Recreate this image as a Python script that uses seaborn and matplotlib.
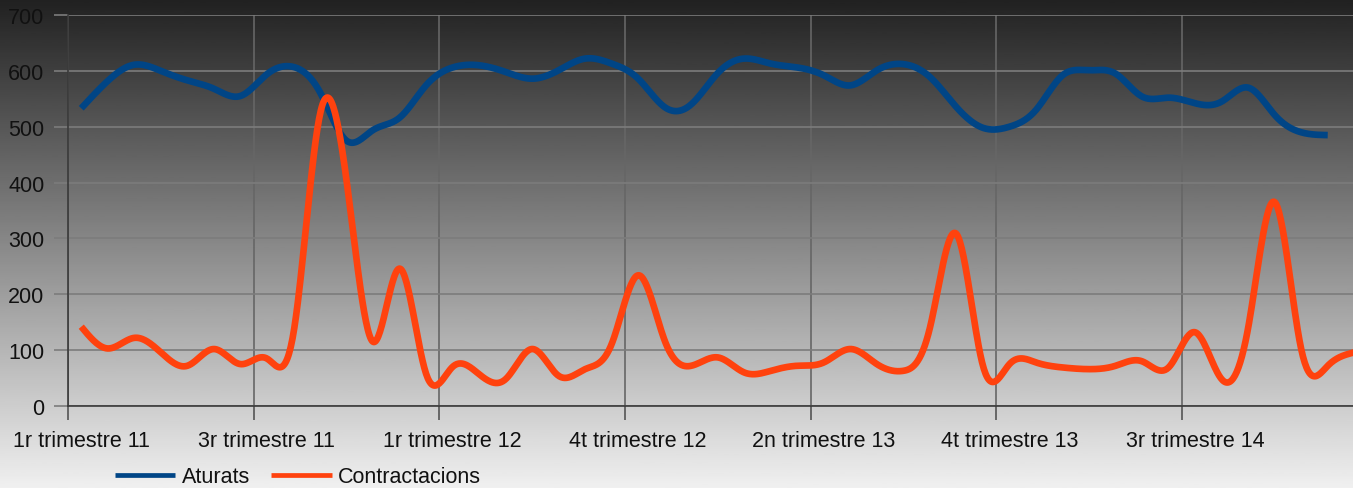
import numpy as np
import pandas as pd
import matplotlib
matplotlib.use("Agg")
import matplotlib.pyplot as plt
import seaborn as sns
from matplotlib.lines import Line2D

# ---- data ----
quarters = ["1r", "2n", "3r", "4t"]
years = ["11", "12", "13", "14", "15"]
months = [f"{q} trimestre {y}" for y in years for q in quarters for _ in range(3)][:49]

aturats = [533, 582, 611, 600, 583, 568, 555, 594, 607, 562,
           475, 494, 516, 574, 606, 610, 598, 586, 601, 622,
           613, 586, 535, 540, 596, 622, 613, 606, 592, 574,
           601, 612, 589, 535, 498, 500, 530, 592, 601, 595,
           554, 552, 542, 545, 570, 521, 490, 485]

contractacions = [142, 103, 122, 96, 72, 102, 75, 85, 130, 522,
                  405, 115, 246, 58, 70, 57, 48, 102, 54, 66,
                  111, 234, 117, 72, 87, 60, 63, 72, 78, 102,
                  75, 63, 140, 308, 72, 75, 78, 69, 66, 72,
                  80, 69, 132, 48, 140, 365, 102, 72, 96]

series_names = ["Aturats", "Contractacions"]
colors = ["#004586", "#ff420e"]
yticks = list(range(0, 701, 100))


def natural_spline(vals, per=30):
    y = np.asarray(vals, dtype=float)
    n = len(y)
    A = np.zeros((n, n))
    b = np.zeros(n)
    A[0, 0] = 1
    A[-1, -1] = 1
    for i in range(1, n - 1):
        A[i, i - 1] = 1
        A[i, i] = 4
        A[i, i + 1] = 1
        b[i] = 6 * (y[i + 1] - 2 * y[i] + y[i - 1])
    M = np.linalg.solve(A, b)
    xs, ys = [], []
    for i in range(n - 1):
        t = np.linspace(0, 1, per, endpoint=(i == n - 2))
        s = ((1 - t) * y[i] + t * y[i + 1]
             + ((1 - t) ** 3 - (1 - t)) * M[i] / 6
             + (t ** 3 - t) * M[i + 1] / 6)
        xs.append(i + t)
        ys.append(s)
    return np.concatenate(xs), np.concatenate(ys)


sns.set_theme(style="white")
plt.rcParams["font.family"] = ["Liberation Sans", "DejaVu Sans"]

W, H = 1353, 489
fig = plt.figure(figsize=(W / 100, H / 100), dpi=100)

# gradient background
bg = fig.add_axes([0, 0, 1, 1], zorder=-10)
grad = np.linspace(0.13, 0.94, 256).reshape(-1, 1)
bg.imshow(grad, aspect="auto", cmap="gray", vmin=0, vmax=1,
          extent=[0, 1, 0, 1], origin="upper")
bg.set_axis_off()

left, right, top, bottom = 68, 1367.5, 16, 407
ax = fig.add_axes([left / W, 1 - bottom / H, (right - left) / W, (bottom - top) / H])
ax.set_facecolor("none")

frames = []
for name, vals in zip(series_names, [aturats, contractacions]):
    xs, ys = natural_spline(vals)
    frames.append(pd.DataFrame({"x": xs, "y": ys, "serie": name}))
df = pd.concat(frames, ignore_index=True)

sns.lineplot(data=df, x="x", y="y", hue="serie", palette=colors,
             estimator=None, sort=False, linewidth=4.8, ax=ax, legend=False)
for ln in ax.lines:
    ln.set_solid_capstyle("butt")

ax.set_xlim(-0.5, 48.5)
ax.set_ylim(0, 700)
ax.set_xlabel("")
ax.set_ylabel("")

gridc = "#7c7c7c"
ax.set_yticks(yticks)
ax.set_yticklabels([str(v) for v in yticks])
ax.yaxis.grid(True, color=gridc, linewidth=1.2)
ax.set_xticks([-0.5 + 7 * k for k in range(8)])
ax.set_xticklabels([])
ax.xaxis.grid(True, color="#666666", linewidth=1.2)
ax.set_xticks(list(range(0, 43, 7)), minor=True)
ax.set_xticklabels([months[i] for i in range(0, 43, 7)], minor=True)
ax.tick_params(axis="y", which="major", length=10, width=1.2, color=gridc,
               pad=7, labelsize=15.5, labelcolor="#111111", left=True)
ax.tick_params(axis="x", which="major", length=10, width=1.2, color="#555555",
               bottom=True)
ax.tick_params(axis="x", which="minor", length=0, pad=17, labelsize=15.5,
               labelcolor="#111111")
ax.set_axisbelow(True)
for s in ["top", "right"]:
    ax.spines[s].set_visible(False)
for s in ["left", "bottom"]:
    ax.spines[s].set_color("#3a3a3a")
    ax.spines[s].set_linewidth(1.2)

handles = [Line2D([], [], color=c, linewidth=3.4, solid_capstyle="butt") for c in colors]
fig.legend(handles, series_names, loc="center", bbox_to_anchor=(298 / W, 1 - 478 / H),
           ncol=2, frameon=False, fontsize=15.5, handlelength=2.8, handletextpad=0.3,
           columnspacing=1.0, labelcolor="#111111")

fig.savefig("out.png", dpi=100)
